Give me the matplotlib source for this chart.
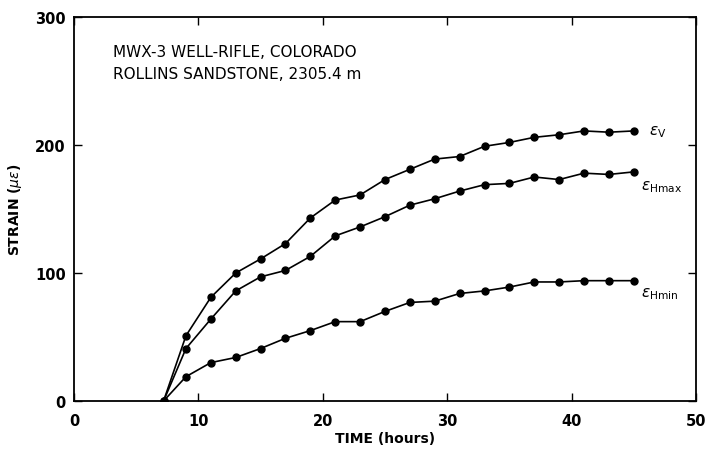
import matplotlib
matplotlib.use("Agg")
import matplotlib.pyplot as plt

plt.rcParams['font.family'] = ['DejaVu Sans']
plt.rcParams['mathtext.fontset'] = 'dejavusans'

time_h = [7.2, 9, 11, 13, 15, 17, 19, 21, 23, 25, 27, 29, 31, 33, 35, 37, 39, 41, 43, 45]
strain_v = [0, 51, 81, 100, 111, 123, 143, 157, 161, 173, 181, 189, 191, 199, 202, 206, 208, 211, 210, 211]
strain_hmax = [0, 41, 64, 86, 97, 102, 113, 129, 136, 144, 153, 158, 164, 169, 170, 175, 173, 178, 177, 179]
strain_hmin = [0, 19, 30, 34, 41, 49, 55, 62, 62, 70, 77, 78, 84, 86, 89, 93, 93, 94, 94, 94]
series_labels = [r'$\epsilon_{\rm V}$', r'$\epsilon_{\rm Hmax}$', r'$\epsilon_{\rm Hmin}$']
x_ticks = [0, 10, 20, 30, 40, 50]
y_ticks = [0, 100, 200, 300]

fig = plt.figure(figsize=(7.07, 4.52), dpi=100)
ax = fig.add_axes([74/707, 50/452, 622/707, 384/452])

for ys in (strain_v, strain_hmax, strain_hmin):
    ax.plot(time_h, ys, color='black', lw=1.2, marker='o', ms=5,
            mfc='black', mec='black')

ax.text(46.2, strain_v[-1], series_labels[0], fontsize=11, va='center', ha='left')
ax.text(45.6, strain_hmax[-1] - 11, series_labels[1], fontsize=11, va='center', ha='left')
ax.text(45.6, strain_hmin[-1] - 10, series_labels[2], fontsize=11, va='center', ha='left')

ax.set_xlim(0, 50)
ax.set_ylim(0, 300)
ax.set_xticks(x_ticks)
ax.set_yticks(y_ticks)
ax.tick_params(direction='in', top=True, right=True, length=6, width=1,
               labelsize=10.5)
ax.tick_params(axis='y', pad=6)
ax.tick_params(axis='x', pad=9)
for lab in ax.get_xticklabels() + ax.get_yticklabels():
    lab.set_fontweight('bold')
for s in ax.spines.values():
    s.set_linewidth(1.3)

ax.set_xlabel('TIME (hours)', fontsize=10, fontweight='bold', labelpad=2)
ax.set_ylabel('STRAIN ($\\mu\\epsilon$)', fontsize=10, fontweight='bold', labelpad=8)

ax.text(0.062, 0.93, 'MWX-3 WELL-RIFLE, COLORADO\nROLLINS SANDSTONE, 2305.4 m',
        transform=ax.transAxes, fontsize=11, va='top', ha='left', linespacing=1.6)

fig.savefig('out.png', dpi=100)
